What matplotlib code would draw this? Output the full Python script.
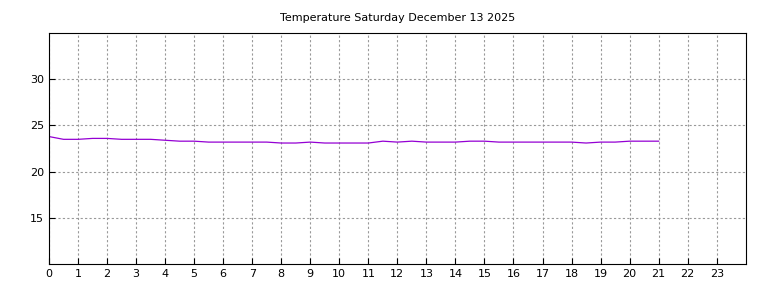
import matplotlib
matplotlib.use("Agg")
import matplotlib.pyplot as plt

# half-hour readings, 00:00 .. 21:00
hours = [i * 0.5 for i in range(43)]
temps = [23.8, 23.5, 23.5, 23.6, 23.6, 23.5, 23.5, 23.5, 23.4, 23.3,
         23.3, 23.2, 23.2, 23.2, 23.2, 23.2, 23.1, 23.1, 23.2, 23.1,
         23.1, 23.1, 23.1, 23.3, 23.2, 23.3, 23.2, 23.2, 23.2, 23.3,
         23.3, 23.2, 23.2, 23.2, 23.2, 23.2, 23.2, 23.1, 23.2, 23.2,
         23.3, 23.3, 23.3]

fig = plt.figure(figsize=(7.68, 2.88), dpi=100)
ax = fig.add_axes([0.0638, 0.0833, 0.9072, 0.8017])
ax.plot(hours, temps, color="#9400D3", linewidth=0.9)

ax.set_xlim(0, 24)
ax.set_ylim(10, 35)
ax.set_xticks(range(24))
ax.set_yticks([15, 20, 25, 30])
ax.tick_params(direction="in", labelsize=8, length=4)
ax.grid(True, color="#999999", linestyle=(0, (2, 2)), linewidth=0.8)
ax.set_title("Temperature Saturday December 13 2025", fontsize=8, pad=9)

fig.savefig("out.png", dpi=100)
